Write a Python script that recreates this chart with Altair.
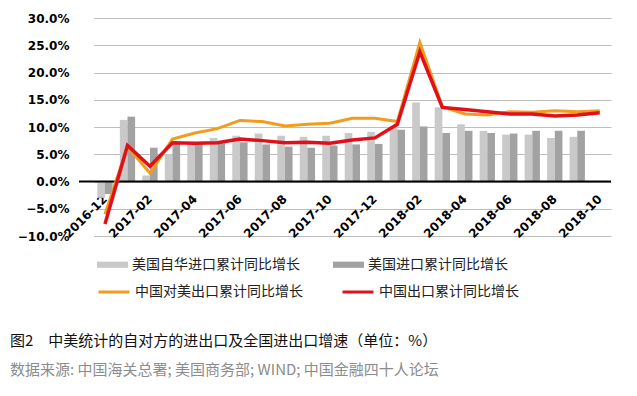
import altair as alt
import pandas as pd

months = ["2016-12", "2017-01", "2017-02", "2017-03", "2017-04", "2017-05", "2017-06",
          "2017-07", "2017-08", "2017-09", "2017-10", "2017-11", "2017-12", "2018-01",
          "2018-02", "2018-03", "2018-04", "2018-05", "2018-06", "2018-07", "2018-08",
          "2018-09", "2018-10"]

bar_names = ["美国自华进口累计同比增长", "美国进口累计同比增长"]
line_names = ["中国对美出口累计同比增长", "中国出口累计同比增长"]

# US data available through 2018-09
us_from_china = [-3.0, 11.3, 1.1, 5.0, 7.2, 8.0, 8.4, 8.8, 8.4, 8.2, 8.4, 8.9, 9.1,
                 10.2, 14.5, 13.6, 10.5, 9.3, 8.6, 8.6, 8.0, 8.2]
us_total = [-2.3, 11.9, 6.2, 6.9, 7.0, 7.0, 7.2, 6.8, 6.4, 6.2, 6.6, 6.8, 6.9,
            9.5, 10.1, 8.9, 9.3, 8.9, 8.8, 9.3, 9.3, 9.3]
cn_to_us = [-6.0, 6.4, 1.5, 7.8, 8.9, 9.7, 11.2, 11.0, 10.2, 10.5, 10.7, 11.6, 11.6,
            11.0, 25.5, 13.7, 12.4, 12.2, 12.8, 12.7, 13.0, 12.8, 13.0]
cn_total = [-7.8, 6.6, 2.8, 7.1, 7.0, 7.1, 7.8, 7.5, 7.1, 7.2, 7.0, 7.6, 8.0,
            10.5, 23.8, 13.6, 13.2, 12.8, 12.4, 12.4, 12.0, 12.2, 12.6]
y_ticks = [-10, -5, 0, 5, 10, 15, 20, 25, 30]

bar_colors = ["#C9C9C9", "#A2A2A2"]
line_colors = ["#F29B1D", "#E0101A"]

caption = "图2　中美统计的自对方的进出口及全国进出口增速（单位：%）"
source = "数据来源: 中国海关总署; 美国商务部; WIND; 中国金融四十人论坛"

bars_df = pd.concat([
    pd.DataFrame({"month": months[:len(us_from_china)], "series": bar_names[0], "value": us_from_china}),
    pd.DataFrame({"month": months[:len(us_total)], "series": bar_names[1], "value": us_total}),
])
lines_df = pd.concat([
    pd.DataFrame({"month": months, "series": line_names[0], "value": cn_to_us}),
    pd.DataFrame({"month": months, "series": line_names[1], "value": cn_total}),
])
zero_df = pd.DataFrame({"value": [0]})

W, H = 532, 218
x_scale = alt.Scale(domain=months, range=[14.75, 532], paddingInner=0.32, paddingOuter=0.16)
y_scale = alt.Scale(domain=[-10, 30], nice=False, zero=False)

x_axis = alt.Axis(title=None, values=months[::2], labelAngle=-45, labelAlign="right",
                  labelBaseline="middle", labelFont="DejaVu Sans", labelFontWeight="bold",
                  labelFontSize=12, labelColor="black", ticks=False, domain=False,
                  grid=False, offset=-54.5, labelPadding=15, labelOverlap=False)
y_axis = alt.Axis(title=None, values=y_ticks, tickCount=len(y_ticks),
                  labelExpr="format(datum.value, '.1f') + '%'",
                  labelFont="DejaVu Sans", labelFontWeight="bold", labelFontSize=12,
                  labelColor="black", ticks=False, domain=False, gridColor="#BDBDBD",
                  gridWidth=1, labelPadding=10, labelOverlap=False)

legend_common = dict(title=None, orient="none", direction="horizontal",
                     labelFont="Noto Sans CJK SC", labelFontSize=14, labelColor="#222222",
                     labelLimit=400, columnPadding=33, labelOffset=4, symbolSize=961,
                     legendX=18)

X = alt.X("month:N", scale=x_scale, axis=x_axis, sort=months)
Y = alt.Y("value:Q", scale=y_scale, axis=y_axis)

bars = alt.Chart(bars_df).mark_bar().encode(
    x=X,
    xOffset=alt.XOffset("series:N", scale=alt.Scale(domain=bar_names, paddingInner=0, paddingOuter=0)),
    y=Y,
    color=alt.Color("series:N", scale=alt.Scale(domain=bar_names, range=bar_colors),
                    legend=alt.Legend(symbolType="M-1,-0.2L1,-0.2L1,0.2L-1,0.2Z",
                                      symbolStrokeWidth=0, legendY=231, **legend_common)),
)

zero = alt.Chart(zero_df).mark_rule(color="black", strokeWidth=2).encode(y=Y)

line_color = alt.Color("series:N", scale=alt.Scale(domain=line_names, range=line_colors),
                       legend=alt.Legend(symbolType="stroke", symbolStrokeWidth=3,
                                         legendY=257, **legend_common))

base_line = alt.Chart(lines_df).encode(x=X, y=Y, color=line_color)
orange = base_line.transform_filter(alt.datum.series == line_names[0]).mark_line(strokeWidth=3)
red = base_line.transform_filter(alt.datum.series == line_names[1]).mark_line(strokeWidth=3.5)
lines = alt.layer(orange, red)

chart = alt.layer(bars, zero, lines).resolve_scale(color="independent").properties(
    width=W, height=H,
    autosize=alt.AutoSizeParams(type="none"),
    padding={"left": 71, "top": 10, "right": 18, "bottom": 152},
    title=alt.TitleParams(text=caption, subtitle=source, orient="bottom", anchor="start",
                          frame="group", dx=-69, offset=35,
                          font="Noto Sans CJK SC", fontSize=15, fontWeight="normal",
                          color="#111111", subtitleFont="Noto Sans CJK SC",
                          subtitleFontSize=15, subtitleColor="#8C8C8C", subtitlePadding=14),
).configure_view(strokeWidth=0)

chart.save("out.html", embed_options={"renderer": "svg", "actions": False})
